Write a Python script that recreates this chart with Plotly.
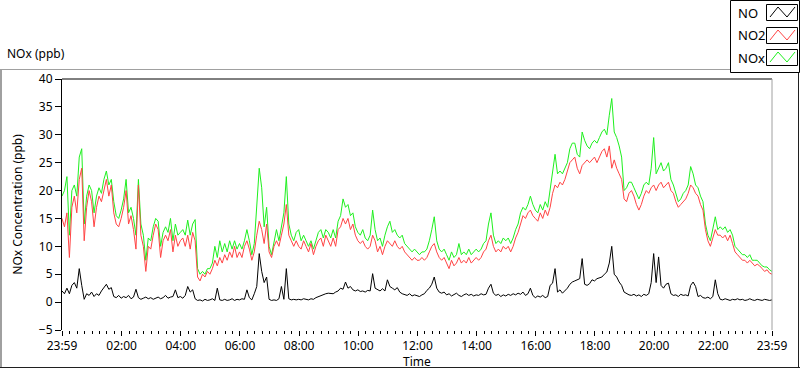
import pandas as pd
import plotly.graph_objects as go

# ---------------- data (5-minute readings, starting 23:59) ----------------
START = "2024-01-01 23:59"
STEP = "5min"

NO2 = [
    15, 13.5, 16, 8, 17, 19, 16, 22, 24, 11, 17, 20,
    18, 13.5, 17, 19, 18, 20, 22, 19, 21, 16, 14, 13.5,
    15, 17, 20, 14, 15.5, 13, 9.5, 21, 12, 10, 5.5, 10,
    9.5, 12, 14, 13, 8, 11, 12, 11, 13, 9, 12, 10,
    11, 11.5, 10, 12, 9.5, 12.5, 11, 4.5, 3.8, 5, 4.5, 5.5,
    5, 6, 7.5, 6.5, 8, 7, 8.5, 7.5, 9, 8, 10, 8,
    9, 8, 10, 11, 9.5, 7.5, 9, 12, 14.5, 13, 10.5, 14,
    9, 8, 10, 11, 10, 12, 14, 17.5, 12, 11, 10, 11,
    10, 9.5, 11, 10, 9, 10.5, 8.5, 10, 11, 11.5, 10, 12,
    11, 10, 11.5, 10, 13, 13.5, 15, 14, 15, 13, 14, 12,
    11, 10.5, 11, 10, 9.5, 10, 12, 11, 9, 10, 8.5, 10,
    11, 10.5, 10, 11, 10, 9.5, 10, 9, 8.5, 8, 7.5, 8,
    7.5, 7.5, 8, 7.5, 8, 9, 10, 10.5, 9, 8, 7.5, 8,
    7, 6, 7.5, 6.5, 7, 8, 7, 7.5, 7, 8, 7, 7.5,
    8, 7.5, 8, 9, 9.5, 11, 12, 10, 9, 9.5, 9, 10,
    9.5, 10, 9, 10, 11.5, 12.5, 14, 15.5, 15, 16, 16.5, 15.5,
    15, 14.5, 16, 15, 16.5, 15.5, 17, 19.5, 21, 20.5, 21.5, 21,
    22, 23.5, 25, 25.5, 26, 24, 23, 24.5, 25, 25.5, 25, 25.5,
    26, 25, 26, 27, 27.5, 26, 28, 24, 25.5, 24, 23, 22,
    18.5, 18, 19.5, 20, 19, 17.5, 16.5, 17.5, 19, 20, 19.5, 20.5,
    21, 20, 21, 21.5, 20.5, 21, 21.5, 20, 19.5, 18, 17, 17.5,
    18, 18.5, 19.5, 21, 20.5, 19.5, 19, 17.5, 16.5, 13, 11, 10,
    11.5, 13, 12, 12, 11.5, 12, 11, 12, 10.5, 9, 8.5, 8,
    7.5, 7.5, 7, 7.5, 7, 6.5, 6.8, 6.5, 6, 5.5, 5.8, 5.2, 5,
]

NOX = [
    19, 20, 22.5, 12, 20, 21, 19, 26, 27.5, 14, 19, 21,
    20, 16, 19, 20.5, 19.5, 22, 23.5, 21, 22, 18, 15.5, 15,
    16.5, 18.5, 22, 16, 17, 15, 12, 22, 14, 12, 7.5, 11.5,
    11, 13.5, 15, 14.5, 10, 12.5, 13.5, 12.5, 15, 11, 14, 12,
    12.5, 13, 12, 14.7, 12, 14, 14.8, 6, 5, 5.5, 5, 6,
    6, 7, 10, 8, 11, 9, 10.5, 9, 11, 9.5, 11, 9.5,
    10.5, 9.5, 11, 13, 11, 8.5, 10.5, 17, 24, 20.5, 13.5, 17,
    10, 8.5, 10.5, 13, 11, 13.5, 16, 22.5, 14, 12, 11, 12.5,
    13, 11, 12, 11, 10, 11, 9.5, 11, 12.5, 13, 11.5, 13,
    12.5, 11.5, 13, 11.5, 14.5, 15.5, 18.5, 17, 17.5, 15.5, 16, 13.5,
    12.5, 12, 13, 11.5, 11, 12, 16.5, 13, 11, 11.5, 10, 12,
    13.5, 14.5, 12.5, 13, 12, 11.5, 12, 10.5, 10, 9.5, 9, 9.5,
    9, 8.5, 9, 9, 9.5, 11, 13, 15.3, 11, 9.5, 9, 9.5,
    8.5, 7.5, 9, 8, 8.5, 10.5, 8.5, 9, 8.5, 9.5, 8.5, 9,
    9.5, 9, 9.5, 10.5, 11, 14, 16, 12, 10.5, 11, 10.5, 11.5,
    11, 11.5, 10.5, 11.5, 13, 14, 16, 17, 16.5, 17.5, 19, 17.5,
    16.5, 16, 17.5, 16.5, 18, 17, 20, 23, 26.5, 23, 23.5, 23,
    24, 25, 27.5, 28.5, 28.5, 26.5, 26, 30.5, 29, 28, 27.5, 28.5,
    29, 28.5, 29.5, 30.5, 31, 30, 33.5, 36.5, 30.5, 29.5, 28, 26,
    20, 20.5, 21.5, 21.5, 20.5, 19.5, 18.5, 19.5, 21, 21.5, 21, 24,
    29.5, 23, 24, 25, 23.5, 24, 25, 22, 21, 19.5, 18, 18.5,
    19.5, 20, 21, 24.3, 23, 21, 20.5, 19, 18, 14, 12, 11,
    13, 15.3, 13, 13.5, 13, 13.5, 12.5, 13, 12, 10, 9.5, 9,
    8.5, 8.5, 8, 8.5, 7.5, 7.5, 7.5, 7, 6.5, 6.3, 6.3, 5.8, 5.5,
]

NO = [
    2, 1.5, 2.5, 1.5, 3, 3.5, 2.5, 6, 3, 0.5, 1.5, 1.2,
    1.8, 1.0, 1.5, 1.2, 2, 2.5, 3.2, 2.3, 2.6, 1.0, 0.8, 1.2,
    0.7, 1.0, 0.8, 1.2, 0.6, 0.9, 2.3, 0.8, 0.5, 0.7, 0.9, 0.6,
    0.8, 0.5, 0.7, 0.9, 0.6, 0.8, 1.2, 0.7, 0.9, 1.0, 2.2, 0.8,
    1.0, 0.7, 1.2, 2.8, 1.8, 2.2, 0.6, 0.3, 0.4, 0.2, 0.5, 0.3,
    0.4, 0.6, 0.3, 2.5, 0.4, 0.3, 0.5, 0.3, 0.4, 0.6, 0.3, 0.5,
    0.4, 0.6, 0.5, 2.2, 0.8, 0.4, 1.5, 2.8, 8.7, 5.5, 3.5, 4.5,
    0.5, 0.3, 0.4, 0.3, 0.6, 2.8, 0.5, 6.0, 0.6, 0.4, 0.5, 0.4,
    0.5, 0.4, 0.6, 0.5, 0.4, 0.6, 0.5, 0.8, 1.0, 1.2, 1.4, 1.5,
    1.6, 1.5, 1.5, 1.8, 2.0, 2.5, 2.3, 3.6, 2.5, 2.8, 2.2, 2.0,
    2.2, 1.9, 2.0, 1.8, 2.1, 2.0, 5.1, 2.5, 2.2, 2.0, 2.4, 2.0,
    4.0, 2.8, 2.5, 2.2, 2.6, 1.8, 1.5, 1.4, 1.2, 1.5, 1.1, 1.3,
    1.2, 1.0, 1.3, 1.5, 2.1, 2.5, 3.2, 4.5, 2.5, 1.8, 1.6, 1.8,
    1.3, 1.5, 1.1, 1.4, 1.6, 1.2, 1.0, 1.3, 1.5, 1.2, 1.4, 1.1,
    1.3, 1.2, 1.5, 1.3, 1.4, 2.5, 3.2, 1.6, 1.2, 1.4, 1.0, 1.3,
    1.1, 1.4, 1.2, 1.5, 1.3, 1.6, 1.4, 1.8, 1.2, 1.5, 2.5, 1.2,
    0.8, 1.1, 0.9, 1.2, 0.8, 1.0, 3.0, 3.4, 6.0, 1.8, 2.2, 1.6,
    2.0, 2.5, 3.2, 3.6, 3.8, 4.0, 4.2, 7.8, 3.2, 3.0, 3.3, 4.0,
    3.8, 4.2, 4.4, 4.5, 5.0, 5.4, 7.0, 10.0, 5.0, 4.5, 3.6, 3.0,
    1.8, 1.5, 1.3, 1.2, 1.4, 1.1, 1.3, 1.0, 1.4, 1.2, 1.5, 3.5,
    8.7, 3.5, 8.1, 3.0, 2.5, 3.2, 3.4, 1.5, 1.2, 1.3, 1.0, 1.4,
    1.2, 1.3, 1.1, 3.0, 3.6, 2.8, 1.0, 1.2, 0.8, 0.7, 0.9, 0.6,
    1.0, 4.0, 1.5, 0.5, 0.4, 0.6, 0.5, 0.3, 0.5, 0.4, 0.6, 0.4,
    0.5, 0.3, 0.4, 0.6, 0.4, 0.3, 0.5, 0.4, 0.3, 0.5, 0.4, 0.3, 0.4,
]

TICK_LABELS = ["23:59", "02:00", "04:00", "06:00", "08:00", "10:00", "12:00",
               "14:00", "16:00", "18:00", "20:00", "22:00", "23:59"]
Y_TICKS = [-5, 0, 5, 10, 15, 20, 25, 30, 35, 40]
SERIES_NAMES = ["NO", "NO2", "NOx"]

# ---------------- figure ----------------
times = pd.date_range(START, periods=len(NO2), freq=STEP)
day1 = times[0].strftime("%Y-%m-%d")
day2 = times[-1].strftime("%Y-%m-%d")
tickvals = [f"{day1} {TICK_LABELS[0]}"] + [f"{day2} {t}" for t in TICK_LABELS[1:]]

W, H = 800, 369
L, R, T, B = 62, 28, 79, 39
PW, PH = W - L - R, H - T - B
FONT = "Noto Sans, DejaVu Sans, sans-serif"

def xp(px):
    return (px - L) / PW

def yp(py):
    return (H - B - py) / PH

colors = {"NO": "#000000", "NO2": "#ff4444", "NOx": "#1ef01e"}

fig = go.Figure()
fig.add_trace(go.Scatter(x=times, y=NOX, mode="lines", name="NOx",
                         line=dict(color=colors["NOx"], width=1)))
fig.add_trace(go.Scatter(x=times, y=NO2, mode="lines", name="NO2",
                         line=dict(color=colors["NO2"], width=1)))
fig.add_trace(go.Scatter(x=times, y=NO, mode="lines", name="NO",
                         line=dict(color=colors["NO"], width=1)))

shapes = []
# outer panel frame
shapes.append(dict(type="line", xref="paper", yref="paper", x0=xp(0), x1=xp(730), y0=yp(69.5), y1=yp(69.5), line=dict(color="#a0a0a0", width=1)))
shapes.append(dict(type="line", xref="paper", yref="paper", x0=xp(1), x1=xp(1), y0=yp(69), y1=yp(368), line=dict(color="#a0a0a0", width=2)))
shapes.append(dict(type="line", xref="paper", yref="paper", x0=xp(0), x1=xp(800), y0=yp(367.5), y1=yp(367.5), line=dict(color="#202020", width=1)))
shapes.append(dict(type="line", xref="paper", yref="paper", x0=xp(798.5), x1=xp(798.5), y0=yp(72), y1=yp(368), line=dict(color="#202020", width=1)))
# plot area borders
shapes.append(dict(type="line", xref="paper", yref="paper", x0=0, x1=1, y0=1, y1=1, line=dict(color="#000000", width=1)))
shapes.append(dict(type="line", xref="paper", yref="paper", x0=1, x1=1, y0=0, y1=1, line=dict(color="#a0a0a0", width=1)))
# legend box
shapes.append(dict(type="rect", xref="paper", yref="paper", x0=xp(730.5), x1=xp(799.5), y0=yp(72.5), y1=yp(0.5), line=dict(color="#000000", width=1), fillcolor="white"))

annotations = [
    dict(text="NOx (ppb)", xref="paper", yref="paper", x=xp(5), y=yp(53), xanchor="left", yanchor="middle",
         showarrow=False, font=dict(family=FONT, size=12, color="#000000")),
    dict(text="Time", xref="paper", yref="paper", x=xp(417), y=yp(361.5), xanchor="center", yanchor="middle",
         showarrow=False, font=dict(family=FONT, size=12, color="#000000")),
]

legend_order = ["NO", "NO2", "NOx"]
row_tops = [4, 27, 49]
for name, top in zip(legend_order, row_tops):
    shapes.append(dict(type="rect", xref="paper", yref="paper", x0=xp(766.5), x1=xp(797.5), y0=yp(top + 16.5), y1=yp(top + 0.5),
                       line=dict(color="#000000", width=1), fillcolor="white"))
    pts = [(770, top + 13), (778, top + 3), (787, top + 13), (795, top + 3)]
    path = "M " + " L ".join(f"{xp(a)},{yp(b)}" for a, b in pts)
    shapes.append(dict(type="path", xref="paper", yref="paper", path=path, line=dict(color=colors[name], width=1)))
    annotations.append(dict(text=name, xref="paper", yref="paper", x=xp(736), y=yp(top + 8.5), xanchor="left", yanchor="middle",
                            showarrow=False, font=dict(family=FONT, size=13, color="#000000")))

fig.update_layout(
    width=W, height=H,
    margin=dict(l=L, r=R, t=T, b=B),
    paper_bgcolor="white", plot_bgcolor="white",
    showlegend=False,
    font=dict(family=FONT, size=12, color="#000000"),
    shapes=shapes,
    annotations=annotations,
    xaxis=dict(
        range=[times[0], times[-1]],
        tickmode="array", tickvals=tickvals, ticktext=TICK_LABELS,
        ticks="outside", ticklen=5, tickcolor="#000000", tickwidth=1,
        showgrid=False, zeroline=False, showline=False,
        minor=dict(tickmode="linear", tick0=f"{day2} 00:00", dtick=15 * 60 * 1000,
                   ticks="outside", ticklen=3, tickcolor="#000000", showgrid=False),
        tickfont=dict(family=FONT, size=12),
        automargin=False,
    ),
    yaxis=dict(
        range=[-5, 40], tickmode="array", tickvals=Y_TICKS,
        ticks="outside", ticklen=6, tickcolor="#000000",
        showgrid=False, zeroline=False, showline=True, linecolor="#000000", linewidth=1,
        title=dict(text="NOx Concentration (ppb)", font=dict(family=FONT, size=12), standoff=13),
        tickfont=dict(family=FONT, size=12),
        automargin=False,
    ),
)

fig.write_html("out.html", config={"displayModeBar": False},
               post_script="document.body.style.margin='0';document.body.style.overflow='hidden';")
